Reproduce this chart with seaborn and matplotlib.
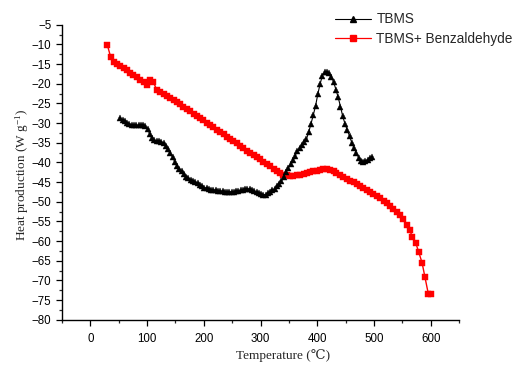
import matplotlib
matplotlib.use("Agg")
import matplotlib.pyplot as plt
import seaborn as sns
import pandas as pd
from matplotlib.ticker import MultipleLocator
from matplotlib.lines import Line2D

# ---- data ----
tbms_temp = [53, 57, 61, 65, 69, 73, 77, 81, 85, 89, 93, 97, 101, 105, 109, 113, 117, 121, 125, 129,
             133, 137, 141, 145, 149, 153, 157, 161, 165, 169, 173, 177, 181, 185, 189, 193, 197, 201,
             205, 209, 213, 217, 221, 225, 229, 233, 237, 241, 245, 249, 253, 257, 261, 265, 269, 273,
             277, 281, 285, 289, 293, 297, 301, 305, 309, 313, 317, 321, 325, 329, 333, 337, 341, 345,
             349, 353, 357, 361, 365, 369, 373, 377, 381, 385, 389, 393, 397, 401, 405, 409, 413, 417,
             421, 425, 429, 433, 437, 441, 445, 449, 453, 457, 461, 465, 469, 473, 477, 481, 485, 489,
             493, 497]
tbms_heat = [-28.8, -29.2, -29.6, -29.9, -30.2, -30.4, -30.5, -30.6, -30.6, -30.6, -30.6, -30.8, -31.6,
             -32.9, -33.9, -34.4, -34.5, -34.6, -34.7, -35.1, -35.8, -36.6, -37.6, -38.7, -39.9, -40.9,
             -41.6, -42.3, -43.0, -43.6, -44.0, -44.4, -44.7, -44.9, -45.3, -45.8, -46.1, -46.4, -46.6,
             -46.8, -46.9, -47.0, -47.1, -47.2, -47.3, -47.4, -47.5, -47.5, -47.5, -47.5, -47.5, -47.4,
             -47.3, -47.1, -46.9, -46.7, -46.7, -46.8, -47.1, -47.4, -47.6, -47.9, -48.1, -48.2, -48.2,
             -47.9, -47.6, -47.1, -46.7, -46.1, -45.6, -44.8, -43.6, -42.4, -41.4, -40.4, -39.4, -38.3,
             -37.2, -36.3, -35.6, -34.9, -34.1, -32.3, -30.2, -28.0, -25.7, -22.7, -20.1, -18.0, -17.1,
             -17.0, -17.4, -18.2, -19.6, -21.5, -23.5, -25.8, -28.3, -30.2, -31.8, -33.3, -35.0, -36.4,
             -37.6, -38.8, -39.6, -39.8, -39.6, -39.3, -39.0, -38.6]

benz_temp = [30, 36, 41, 47, 53, 59, 65, 70, 76, 82, 88, 94, 100, 106, 111, 117, 123, 129, 135, 141,
             147, 152, 158, 164, 170, 176, 182, 188, 194, 199, 205, 211, 217, 223, 229, 235, 241, 246,
             252, 258, 264, 270, 276, 282, 288, 293, 299, 305, 311, 317, 323, 329, 335, 340, 346, 352,
             358, 364, 370, 376, 382, 387, 393, 399, 405, 411, 417, 423, 429, 434, 440, 446, 452, 458,
             464, 470, 476, 481, 487, 493, 499, 505, 511, 517, 523, 528, 534, 540, 546, 552, 558, 563,
             568, 574, 579, 585, 590, 596, 601]
benz_heat = [-10.2, -13.3, -14.4, -14.9, -15.4, -16.0, -16.6, -17.2, -17.8, -18.4, -19.0, -19.6, -20.3,
             -19.0, -19.6, -21.5, -22.1, -22.6, -23.1, -23.6, -24.1, -24.6, -25.2, -25.8, -26.4, -27.0,
             -27.6, -28.2, -28.8, -29.3, -29.9, -30.5, -31.1, -31.7, -32.3, -32.9, -33.5, -34.0, -34.6,
             -35.2, -35.8, -36.4, -37.0, -37.6, -38.2, -38.7, -39.2, -39.8, -40.4, -41.0, -41.7, -42.3,
             -42.8, -43.1, -43.3, -43.5, -43.4, -43.3, -43.2, -43.0, -42.7, -42.5, -42.3, -42.1, -41.9,
             -41.8, -41.8, -41.9, -42.2, -42.6, -43.2, -43.8, -44.3, -44.8, -45.1, -45.5, -45.9, -46.4,
             -47.0, -47.5, -48.0, -48.5, -49.1, -49.7, -50.3, -51.0, -51.8, -52.5, -53.4, -54.5, -55.8,
             -57.3, -58.9, -60.6, -62.8, -65.6, -69.2, -73.5, -73.5]

series_names = ["TBMS", "TBMS+ Benzaldehyde"]
x_ticks = [0, 100, 200, 300, 400, 500, 600]
y_ticks = [-80, -75, -70, -65, -60, -55, -50, -45, -40, -35, -30, -25, -20, -15, -10, -5]

# ---- style ----
sns.set_style("ticks")
plt.rcParams["font.family"] = ["Liberation Sans", "DejaVu Sans"]
plt.rcParams["mathtext.default"] = "regular"

fig = plt.figure(figsize=(5.19, 3.65), dpi=100)
ax = fig.add_axes([62 / 519, 1 - 319.7 / 365, 397 / 519, 295 / 365])

df_t = pd.DataFrame({"Temperature": tbms_temp, "Heat": tbms_heat})
df_b = pd.DataFrame({"Temperature": benz_temp, "Heat": benz_heat})

sns.lineplot(data=df_b, x="Temperature", y="Heat", ax=ax, color="#ff0000", linewidth=1.0,
             marker="s", markersize=3.8, markeredgecolor="#ff0000", markeredgewidth=0.3,
             zorder=2, sort=False, estimator=None)
sns.lineplot(data=df_t, x="Temperature", y="Heat", ax=ax, color="black", linewidth=0.8,
             marker="^", markersize=4.2, markeredgecolor="black", markeredgewidth=0.3,
             zorder=3, sort=False, estimator=None)

ax.set_xlim(-50, 650)
ax.set_ylim(-80, -5)
ax.set_xticks(x_ticks)
ax.set_yticks(y_ticks)
ax.xaxis.set_minor_locator(MultipleLocator(50))
ax.yaxis.set_minor_locator(MultipleLocator(2.5))
ax.tick_params(axis="both", which="major", direction="out", length=4.5, width=0.9,
               labelsize=8.3, colors="black", pad=3)
ax.tick_params(axis="x", which="major", pad=5)
ax.tick_params(axis="both", which="minor", direction="out", length=2.5, width=0.9)
for s in ["top", "right"]:
    ax.spines[s].set_visible(False)
for s in ["left", "bottom"]:
    ax.spines[s].set_linewidth(1.0)
    ax.spines[s].set_color("black")

serif = ["Liberation Serif", "DejaVu Serif"]
ax.set_xlabel("Temperature (\u2103)", family=serif, fontsize=9.5)
ax.set_ylabel("Heat production (W g$^{-1}$)", family=serif, fontsize=9.5)
ax.xaxis.set_label_coords(0.557, -0.098)
ax.yaxis.set_label_coords(-0.078, 0.49)

handles = [Line2D([], [], color="black", linewidth=0.8, marker="^", markersize=4.5),
           Line2D([], [], color="#ff0000", linewidth=0.9, marker="s", markersize=3.8)]
fig.legend(handles, series_names, loc="upper left", bbox_to_anchor=(330 / 519, 1 - 7 / 365),
           frameon=False, fontsize=9.8, handlelength=2.6, handletextpad=0.4, labelspacing=0.4,
           borderaxespad=0, borderpad=0.4)

fig.savefig("out.png", dpi=100)
